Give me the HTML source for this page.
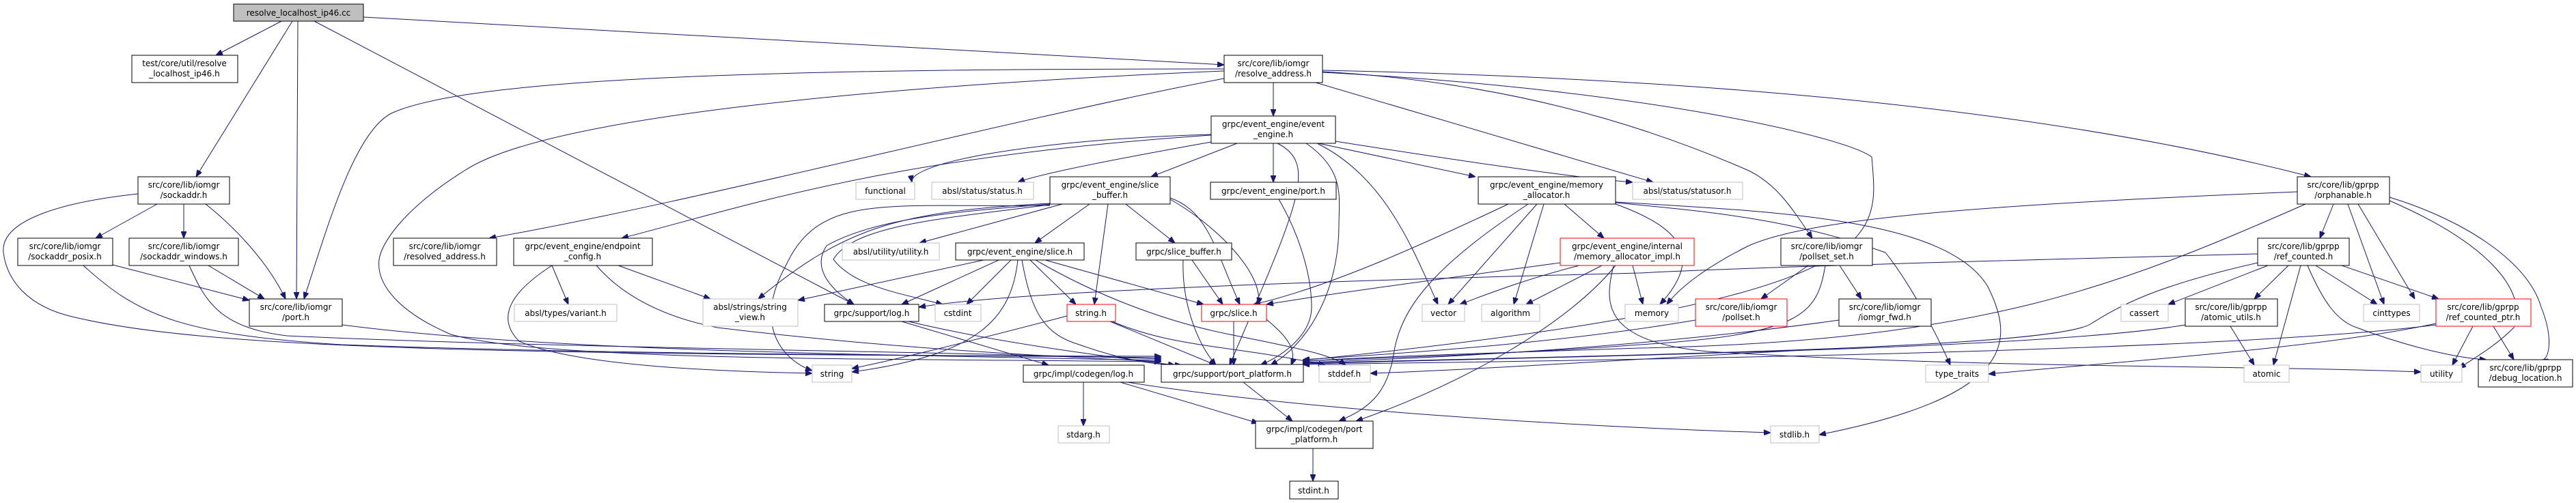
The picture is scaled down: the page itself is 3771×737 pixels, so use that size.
<!DOCTYPE html>
<html><head><meta charset="utf-8"><style>
html,body{margin:0;padding:0;background:#fff;}
svg{display:block;}
text{font-family:"DejaVu Sans","Liberation Sans",sans-serif;font-size:12px;fill:#000;text-anchor:middle;}
.e{fill:none;stroke:#191970;stroke-width:1;}
.b{fill:#fff;stroke:#000;stroke-width:1;}
.g{fill:#fff;stroke:#bfbfbf;stroke-width:1;}
.r{fill:#fff;stroke:#ff0000;stroke-width:1;}
</style></head><body>
<svg width="3771" height="737" viewBox="0 0 3771 737" xmlns="http://www.w3.org/2000/svg">
<defs><marker id="a" markerWidth="10" markerHeight="8" refX="10" refY="4" orient="auto" markerUnits="userSpaceOnUse"><path d="M0,0 L10,4 L0,8 z" fill="#191970" stroke="#191970"/></marker></defs>
<g marker-end="url(#a)">
<!-- from cc -->
<path class="e" d="M412,31 L316,81"/>
<path class="e" d="M428,31 L287,259"/>
<path class="e" d="M436,31 L434,438"/>
<path class="e" d="M460,31 L1250,446"/>
<path class="e" d="M532,25 L1792,95"/>
<!-- sockaddr -->
<path class="e" d="M230,299 L140,349"/>
<path class="e" d="M269,299 L269,349"/>
<path class="e" d="M301,299 C340,330 390,380 418,438"/>
<path class="e" d="M202,284 C100,295 0,320 5,370 C10,410 40,450 110,465 C300,510 700,520 1700,522"/>
<path class="e" d="M165,388 L365,440"/>
<path class="e" d="M122,389 C200,460 260,490 500,505 C900,520 1400,520 1700,524"/>
<path class="e" d="M305,389 L387,438"/>
<path class="e" d="M277,389 C300,440 320,480 420,492 C800,510 1400,515 1700,526"/>
<path class="e" d="M501,476 C800,515 1300,520 1700,528"/>
<!-- resolve_address -->
<path class="e" d="M1792,101 C1200,101 700,110 575,165 C520,190 480,330 445,438"/>
<path class="e" d="M1792,104 C1300,125 800,170 680,250 C600,300 560,350 555,380 C550,420 590,460 660,490 C800,530 1300,525 1700,530"/>
<path class="e" d="M1792,115 C1500,170 1000,300 716,349"/>
<path class="e" d="M1864,121 L1864,170"/>
<path class="e" d="M1926,121 L2420,267"/>
<path class="e" d="M1936,105 C2200,120 2400,180 2560,250 C2600,270 2620,300 2653,349"/>
<path class="e" d="M1936,103 C2500,115 3000,160 3383,259"/>
<path class="e" d="M1936,106 C2400,130 2700,200 2740,230 C2750,350 2780,440 1907,528"/>
<!-- event_engine.h -->
<path class="e" d="M1773,197 C1500,205 1330,240 1335,267"/>
<path class="e" d="M1773,208 C1650,230 1520,255 1490,267"/>
<path class="e" d="M1811,210 L1685,259"/>
<path class="e" d="M1864,210 L1864,267"/>
<path class="e" d="M1955,207 C2100,230 2300,260 2390,267"/>
<path class="e" d="M1930,210 L2160,259"/>
<path class="e" d="M1928,210 C2030,260 2070,370 2105,446"/>
<path class="e" d="M1912,210 C1970,250 1960,290 1960,330 C1960,420 1920,500 1860,535"/>
<path class="e" d="M1773,198 C1300,230 1100,300 910,349"/>
<path class="e" d="M1870,210 C1930,240 1900,300 1800,535"/>
<!-- event_engine/port.h -->
<path class="e" d="M1872,292 C1900,340 1920,400 1920,450 C1920,490 1880,520 1845,535"/>
<!-- endpoint_config -->
<path class="e" d="M808,389 L832,446"/>
<path class="e" d="M808,389 C760,420 720,460 760,500 C850,540 1100,545 1189,547"/>
<path class="e" d="M873,389 C900,420 950,460 1050,480 C1300,510 1500,520 1700,530"/>
<path class="e" d="M905,389 L1040,438"/>
<!-- slice_buffer -->
<path class="e" d="M1555,299 L1346,356"/>
<path class="e" d="M1595,299 L1515,356"/>
<path class="e" d="M1648,299 L1720,356"/>
<path class="e" d="M1622,299 L1602,446"/>
<path class="e" d="M1713,290 C1770,310 1780,370 1815,446"/>
<path class="e" d="M1713,292 C1780,330 1850,400 1842,446"/>
<path class="e" d="M1537,298 C1320,310 1240,330 1110,438"/>
<path class="e" d="M1537,299 C1400,310 1280,320 1210,360 C1190,390 1210,420 1250,446"/>
<path class="e" d="M1537,300 C1380,320 1250,330 1220,380 C1250,420 1320,430 1380,446"/>
<path class="e" d="M1537,301 C1300,305 1200,280 1150,390 C1100,480 1150,530 1189,543"/>
<!-- ev slice.h -->
<path class="e" d="M1440,381 L1168,440"/>
<path class="e" d="M1462,381 L1320,446"/>
<path class="e" d="M1480,381 L1415,446"/>
<path class="e" d="M1508,381 L1575,446"/>
<path class="e" d="M1530,381 L1762,446"/>
<path class="e" d="M1490,381 C1480,470 1430,520 1247,545"/>
<path class="e" d="M1496,381 C1510,460 1530,490 1580,505 C1650,530 1700,535 1730,535"/>
<path class="e" d="M1516,381 C1600,430 1700,470 1800,490 C1900,510 1950,520 1970,535"/>
<!-- grpc/slice_buffer.h -->
<path class="e" d="M1745,381 L1790,446"/>
<path class="e" d="M1732,381 C1730,440 1750,500 1780,535"/>
<!-- log.h -->
<path class="e" d="M1320,471 L1535,535"/>
<path class="e" d="M1330,471 C1450,500 1600,520 1720,535"/>
<!-- string.h -->
<path class="e" d="M1562,463 C1420,500 1320,525 1247,540"/>
<path class="e" d="M1625,471 L1780,535"/>
<path class="e" d="M1628,471 C1720,510 1800,505 1940,535"/>
<!-- grpc/slice.h -->
<path class="e" d="M1806,471 L1806,535"/>
<path class="e" d="M1854,468 C1880,490 1900,510 1890,535"/>
<!-- codegen log -->
<path class="e" d="M1586,560 L1586,624"/>
<path class="e" d="M1640,560 L1842,620"/>
<path class="e" d="M1650,560 C1900,600 2300,625 2592,634"/>
<path class="e" d="M1820,560 L1892,617"/>
<path class="e" d="M1922,657 L1922,705"/>
<!-- memory_allocator -->
<path class="e" d="M2208,299 C2100,350 1950,420 1835,446"/>
<path class="e" d="M2250,299 L2120,446"/>
<path class="e" d="M2260,299 L2216,446"/>
<path class="e" d="M2290,299 L2348,349"/>
<path class="e" d="M2365,299 C2450,330 2500,370 2430,446"/>
<path class="e" d="M2237,299 C2100,390 2050,450 2040,520 C2030,580 2000,600 1960,617"/>
<path class="e" d="M2365,297 C2500,310 2620,320 2760,370 C2800,420 2840,500 2855,535"/>
<path class="e" d="M2365,296 C2600,310 2850,320 2910,420 C2950,500 2950,580 2663,637"/>
<!-- memory_allocator_impl -->
<path class="e" d="M2284,385 C2100,410 1950,430 1854,446"/>
<path class="e" d="M2312,389 C2230,410 2180,430 2137,446"/>
<path class="e" d="M2345,389 L2234,446"/>
<path class="e" d="M2390,389 L2405,446"/>
<path class="e" d="M2365,389 C2300,470 2150,560 1985,617"/>
<path class="e" d="M2362,389 C2350,440 2340,500 2500,515 C2900,540 3300,535 3544,545"/>
<!-- pollset_set -->
<path class="e" d="M2647,389 L2578,438"/>
<path class="e" d="M2693,389 L2725,438"/>
<path class="e" d="M2672,389 C2660,460 2640,490 2400,505 C2200,520 2000,525 1907,529"/>
<path class="e" d="M2482,469 C2300,500 2100,515 1907,527"/>
<path class="e" d="M2692,469 C2400,510 2100,525 1907,531"/>
<!-- orphanable -->
<path class="e" d="M3363,281 C2900,300 2650,320 2560,360 C2500,390 2460,420 2440,446"/>
<path class="e" d="M3416,299 L3396,349"/>
<path class="e" d="M3437,299 L3490,446"/>
<path class="e" d="M3452,299 L3535,438"/>
<path class="e" d="M3498,294 C3650,360 3700,430 3680,480 C3650,510 3620,525 3600,540"/>
<path class="e" d="M3498,289 C3600,320 3700,380 3720,450 C3740,500 3730,530 3720,527"/>
<path class="e" d="M3375,299 C3100,420 2900,500 2400,510 C2100,520 1950,525 1907,530"/>
<!-- ref_counted -->
<path class="e" d="M3305,372 C3000,380 2600,390 2400,400 C2000,410 1500,425 1345,450"/>
<path class="e" d="M3320,389 L3174,446"/>
<path class="e" d="M3350,389 L3300,438"/>
<path class="e" d="M3368,389 L3328,535"/>
<path class="e" d="M3390,389 L3480,446"/>
<path class="e" d="M3428,389 L3570,438"/>
<path class="e" d="M3378,389 C3400,440 3420,470 3450,480 C3530,510 3600,525 3640,527"/>
<path class="e" d="M3305,385 C3150,420 3100,450 3060,475 C3000,510 2400,520 1907,532"/>
<!-- atomic_utils -->
<path class="e" d="M3265,478 L3300,535"/>
<path class="e" d="M3199,476 C3000,510 2400,520 1907,533"/>
<!-- ref_counted_ptr -->
<path class="e" d="M3620,478 L3590,535"/>
<path class="e" d="M3650,478 L3680,527"/>
<path class="e" d="M3566,474 C3400,510 3100,530 2911,548"/>
<path class="e" d="M3566,476 C3300,510 2600,525 1907,534"/>
<!-- stddef incoming -->
<path class="e" d="M2700,510 C2400,525 2200,540 2006,547"/>
</g>
<!-- nodes -->
<rect x="342" y="6" width="190" height="25" fill="#bfbfbf" stroke="#000"/><text x="437" y="23">resolve_localhost_ip46.cc</text>
<rect class="b" x="193" y="81" width="155" height="40"/><text x="270" y="97">test/core/util/resolve</text><text x="270" y="112">_localhost_ip46.h</text>
<rect class="b" x="202" y="259" width="134" height="40"/><text x="269" y="275">src/core/lib/iomgr</text><text x="269" y="290">/sockaddr.h</text>
<rect class="b" x="26" y="349" width="139" height="40"/><text x="95" y="365">src/core/lib/iomgr</text><text x="95" y="380">/sockaddr_posix.h</text>
<rect class="b" x="189" y="349" width="160" height="40"/><text x="269" y="365">src/core/lib/iomgr</text><text x="269" y="380">/sockaddr_windows.h</text>
<rect class="b" x="365" y="438" width="136" height="40"/><text x="433" y="454">src/core/lib/iomgr</text><text x="433" y="469">/port.h</text>
<rect class="b" x="576" y="349" width="151" height="40"/><text x="651" y="365">src/core/lib/iomgr</text><text x="651" y="380">/resolved_address.h</text>
<rect class="b" x="752" y="349" width="203" height="40"/><text x="853" y="365">grpc/event_engine/endpoint</text><text x="853" y="380">_config.h</text>
<rect class="g" x="753" y="446" width="150" height="25"/><text x="828" y="463">absl/types/variant.h</text>
<rect class="b" x="1792" y="81" width="144" height="40"/><text x="1864" y="97">src/core/lib/iomgr</text><text x="1864" y="112">/resolve_address.h</text>
<rect class="b" x="1773" y="170" width="182" height="40"/><text x="1864" y="186">grpc/event_engine/event</text><text x="1864" y="201">_engine.h</text>
<rect class="g" x="1253" y="267" width="86" height="25"/><text x="1296" y="284">functional</text>
<rect class="g" x="1364" y="267" width="149" height="25"/><text x="1438" y="284">absl/status/status.h</text>
<rect class="b" x="1537" y="259" width="176" height="40"/><text x="1625" y="275">grpc/event_engine/slice</text><text x="1625" y="290">_buffer.h</text>
<rect class="b" x="1772" y="267" width="184" height="25"/><text x="1864" y="284">grpc/event_engine/port.h</text>
<rect class="g" x="1233" y="356" width="142" height="25"/><text x="1304" y="373">absl/utility/utility.h</text>
<rect class="b" x="1399" y="356" width="188" height="25"/><text x="1493" y="373">grpc/event_engine/slice.h</text>
<rect class="b" x="1663" y="356" width="140" height="25"/><text x="1733" y="373">grpc/slice_buffer.h</text>
<rect class="g" x="1029" y="438" width="139" height="40"/><text x="1098" y="454">absl/strings/string</text><text x="1098" y="469">_view.h</text>
<rect class="b" x="1207" y="446" width="138" height="25"/><text x="1276" y="463">grpc/support/log.h</text>
<rect class="g" x="1369" y="446" width="67" height="25"/><text x="1402" y="463">cstdint</text>
<rect class="r" x="1562" y="446" width="71" height="25"/><text x="1597" y="463">string.h</text>
<rect class="r" x="1759" y="446" width="95" height="25"/><text x="1806" y="463">grpc/slice.h</text>
<rect class="g" x="1189" y="535" width="58" height="25"/><text x="1218" y="552">string</text>
<rect class="b" x="1498" y="535" width="177" height="25"/><text x="1586" y="552">grpc/impl/codegen/log.h</text>
<rect class="b" x="1700" y="534" width="208" height="26"/><text x="1804" y="552">grpc/support/port_platform.h</text>
<rect class="g" x="1549" y="624" width="75" height="25"/><text x="1586" y="641">stdarg.h</text>
<rect class="b" x="2164" y="259" width="201" height="40"/><text x="2264" y="275">grpc/event_engine/memory</text><text x="2264" y="290">_allocator.h</text>
<rect class="g" x="2390" y="267" width="161" height="25"/><text x="2470" y="284">absl/status/statusor.h</text>
<rect class="r" x="2284" y="349" width="196" height="40"/><text x="2382" y="365">grpc/event_engine/internal</text><text x="2382" y="380">/memory_allocator_impl.h</text>
<rect class="b" x="2607" y="349" width="134" height="40"/><text x="2674" y="365">src/core/lib/iomgr</text><text x="2674" y="380">/pollset_set.h</text>
<rect class="g" x="2082" y="446" width="62" height="25"/><text x="2113" y="463">vector</text>
<rect class="g" x="2169" y="446" width="85" height="25"/><text x="2211" y="463">algorithm</text>
<rect class="g" x="2379" y="446" width="78" height="25"/><text x="2418" y="463">memory</text>
<rect class="r" x="2482" y="438" width="134" height="40"/><text x="2549" y="454">src/core/lib/iomgr</text><text x="2549" y="469">/pollset.h</text>
<rect class="b" x="2692" y="438" width="135" height="40"/><text x="2759" y="454">src/core/lib/iomgr</text><text x="2759" y="469">/iomgr_fwd.h</text>
<rect class="g" x="1931" y="535" width="75" height="25"/><text x="1968" y="552">stddef.h</text>
<rect class="b" x="1838" y="617" width="172" height="40"/><text x="1924" y="633">grpc/impl/codegen/port</text><text x="1924" y="648">_platform.h</text>
<rect class="b" x="1888" y="705" width="71" height="26"/><text x="1923" y="723">stdint.h</text>
<rect class="g" x="2592" y="624" width="71" height="25"/><text x="2627" y="641">stdlib.h</text>
<rect class="b" x="3363" y="259" width="135" height="40"/><text x="3430" y="275">src/core/lib/gprpp</text><text x="3430" y="290">/orphanable.h</text>
<rect class="b" x="3305" y="349" width="134" height="40"/><text x="3372" y="365">src/core/lib/gprpp</text><text x="3372" y="380">/ref_counted.h</text>
<rect class="g" x="3105" y="446" width="69" height="25"/><text x="3139" y="463">cassert</text>
<rect class="b" x="3199" y="438" width="135" height="40"/><text x="3266" y="454">src/core/lib/gprpp</text><text x="3266" y="469">/atomic_utils.h</text>
<rect class="g" x="3460" y="446" width="82" height="25"/><text x="3501" y="463">cinttypes</text>
<rect class="r" x="3566" y="438" width="139" height="40"/><text x="3635" y="454">src/core/lib/gprpp</text><text x="3635" y="469">/ref_counted_ptr.h</text>
<rect class="g" x="2819" y="535" width="92" height="25"/><text x="2865" y="552">type_traits</text>
<rect class="g" x="3285" y="535" width="66" height="25"/><text x="3318" y="552">atomic</text>
<rect class="g" x="3544" y="535" width="60" height="25"/><text x="3574" y="552">utility</text>
<rect class="b" x="3628" y="527" width="138" height="40"/><text x="3697" y="543">src/core/lib/gprpp</text><text x="3697" y="558">/debug_location.h</text>
</svg>
</body></html>
